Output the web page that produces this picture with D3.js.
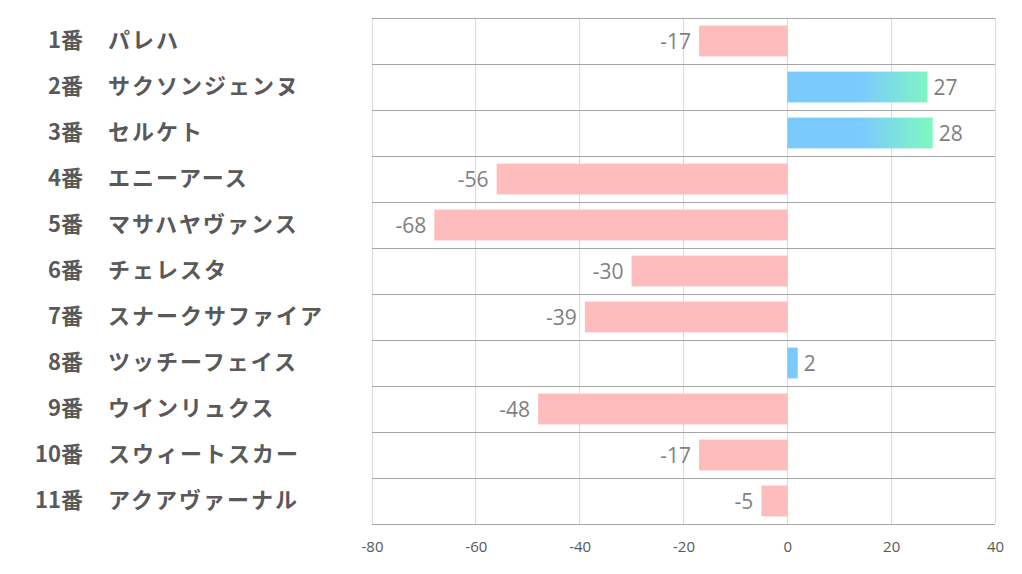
<!DOCTYPE html>
<html><head><meta charset="utf-8">
<script src="https://cdn.jsdelivr.net/npm/d3@7"></script>
<style>body{margin:0;background:#fff}svg{display:block}</style>
</head><body>
<svg id="c" width="1022" height="574"></svg>
<script>
const numbers = ["1番","2番","3番","4番","5番","6番","7番","8番","9番","10番","11番"];
const names = ["パレハ","サクソンジェンヌ","セルケト","エニーアース","マサハヤヴァンス","チェレスタ","スナークサファイア","ツッチーフェイス","ウインリュクス","スウィートスカー","アクアヴァーナル"];
const values = [-17,27,28,-56,-68,-30,-39,2,-48,-17,-5];
const xTicks = [-80,-60,-40,-20,0,20,40];

const svg = d3.select("#c");
const L=372, R=995, T=18, B=524;
const x = d3.scaleLinear().domain([-80,40]).range([L,R]);
const y = d3.scaleBand().domain(d3.range(values.length)).range([T,B]).paddingInner(0.33).paddingOuter(0.165);
const rowY = d3.scaleBand().domain(d3.range(values.length)).range([T,B]);

const defs = svg.append("defs");
const g = defs.append("linearGradient").attr("id","pg").attr("gradientUnits","userSpaceOnUse")
  .attr("x1",x(14)).attr("x2",x(28)).attr("y1",0).attr("y2",0);
g.append("stop").attr("offset","0").attr("stop-color","#7bcafe");
g.append("stop").attr("offset","1").attr("stop-color","#7ff8be");

// vertical gridlines
svg.append("g").selectAll("line").data(xTicks).join("line")
  .attr("x1",d=>x(d)).attr("x2",d=>x(d)).attr("y1",T).attr("y2",B)
  .attr("stroke","#d9d9d9").attr("stroke-width",1).attr("shape-rendering","crispEdges");
// horizontal lines (row separators)
svg.append("g").selectAll("line").data(d3.range(values.length+1)).join("line")
  .attr("x1",L).attr("x2",R)
  .attr("y1",i=> i<values.length ? rowY(i) : B).attr("y2",i=> i<values.length ? rowY(i) : B)
  .attr("stroke","#a6a6a6").attr("stroke-width",1).attr("shape-rendering","crispEdges");

// bars
svg.append("g").selectAll("rect").data(values).join("rect")
  .attr("x",d=>x(Math.min(0,d))).attr("width",d=>Math.abs(x(d)-x(0)))
  .attr("y",(d,i)=>y(i)).attr("height",y.bandwidth())
  .attr("fill",d=> d<0 ? "#ffbcbd" : "url(#pg)");

// value labels
svg.append("g").selectAll("text").data(values).join("text")
  .attr("x",d=> d<0 ? x(d)-8 : x(d)+6)
  .attr("y",(d,i)=>y(i)+y.bandwidth()/2)
  .attr("dy","0.36em")
  .attr("text-anchor",d=> d<0 ? "end":"start")
  .attr("font-family","'Open Sans','Noto Sans',sans-serif").attr("font-size",21)
  .attr("fill","#7f7f7f").text(d=>d);

// x axis
const ax = svg.append("g").attr("transform",`translate(0,${B})`)
  .call(d3.axisBottom(x).tickValues(xTicks).tickSize(0).tickPadding(17).tickFormat(d=>String(d)));
ax.select(".domain").remove();
ax.selectAll("text").attr("font-family","'Open Sans','Noto Sans',sans-serif").attr("font-size",15).attr("fill","#595959");

// category labels
const lab = svg.append("g");
lab.selectAll("text.n").data(numbers).join("text").attr("class","n")
  .attr("x",83).attr("y",(d,i)=>rowY(i)+rowY.bandwidth()/2 - 1).attr("dy","0.36em")
  .attr("text-anchor","end").attr("font-family","'Noto Sans CJK JP',sans-serif").attr("font-weight","bold")
  .attr("font-size",22).attr("fill","#595959").text(d=>d);
lab.selectAll("text.m").data(names).join("text").attr("class","m")
  .attr("x",108).attr("y",(d,i)=>rowY(i)+rowY.bandwidth()/2 - 1).attr("dy","0.36em")
  .attr("text-anchor","start").attr("font-family","'Noto Sans CJK JP',sans-serif").attr("font-weight","bold")
  .attr("font-size",22).attr("letter-spacing",2).attr("fill","#595959").text(d=>d);
</script>
</body></html>
